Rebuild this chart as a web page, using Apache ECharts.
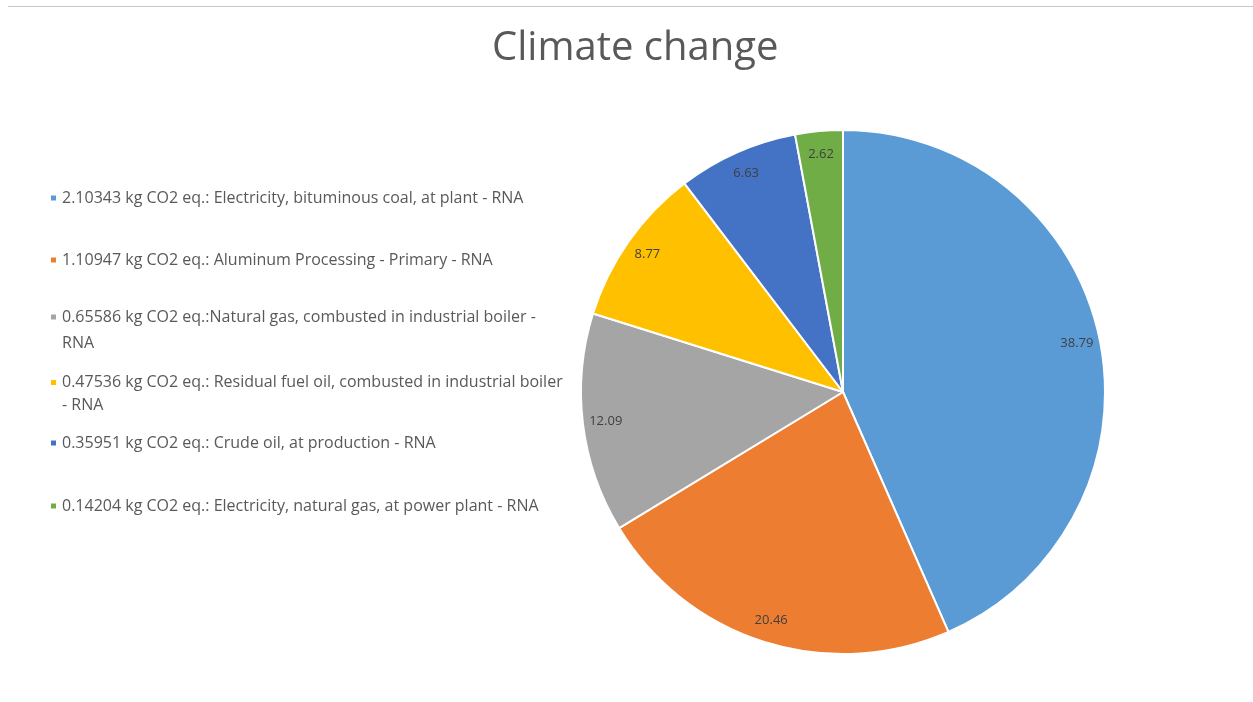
<!DOCTYPE html>
<html>
<head>
<meta charset="utf-8">
<script src="https://cdn.jsdelivr.net/npm/echarts@6/dist/echarts.min.js"></script>
<style>
html,body{margin:0;padding:0;background:#fff;}
#topline{position:absolute;left:8px;right:0;top:6px;height:0;border-top:1px solid #c6c6c6;}
#chart{width:1253px;height:702px;}
</style>
</head>
<body>
<div id="chart"></div>
<div id="topline"></div>
<script>
const titleText = 'Climate change';
const categories = [
  '2.10343 kg CO2 eq.: Electricity, bituminous coal, at plant - RNA',
  '1.10947 kg CO2 eq.: Aluminum Processing - Primary - RNA',
  '0.65586 kg CO2 eq.:Natural gas, combusted in industrial boiler -\nRNA',
  '0.47536 kg CO2 eq.: Residual fuel oil, combusted in industrial boiler\n- RNA',
  '0.35951 kg CO2 eq.: Crude oil, at production - RNA',
  '0.14204 kg CO2 eq.: Electricity, natural gas, at power plant - RNA'
];
const values = [2.10343, 1.10947, 0.65586, 0.47536, 0.35951, 0.14204];
const shareLabels = ['38.79', '20.46', '12.09', '8.77', '6.63', '2.62'];
const colors = ['#5B9BD5', '#ED7D31', '#A5A5A5', '#FFC000', '#4472C4', '#70AD47'];

const chart = echarts.init(document.getElementById('chart'));

const legendTops = [188, 250, 278, 348, 433, 496];
const legendLineHeights = [20, 20, 26, 23, 20, 20];
const legends = categories.map((name, i) => {
  const wrapped = name.indexOf('\n') >= 0;
  return {
    orient: 'vertical',
    left: 49,
    top: legendTops[i],
    padding: 0,
    icon: 'rect',
    itemWidth: 7,
    itemHeight: 7,
    itemGap: 0,
    selectedMode: false,
    data: [name],
    formatter: n => (wrapped ? '\n' + n : n),
    textStyle: {
      fontFamily: 'Open Sans',
      fontSize: 16,
      color: '#595959',
      lineHeight: legendLineHeights[i]
    }
  };
});

chart.setOption({
  animation: false,
  title: {
    text: titleText,
    left: 492,
    top: 29,
    padding: 0,
    textStyle: { fontFamily: 'Open Sans', fontSize: 40, fontWeight: 'normal', color: '#595959' }
  },
  color: colors,
  legend: legends,
  series: [
    {
      type: 'pie',
      center: [843, 392],
      radius: [0, 262],
      startAngle: 90,
      clockwise: true,
      avoidLabelOverlap: false,
      silent: true,
      itemStyle: { borderColor: '#ffffff', borderWidth: 2 },
      label: { show: false },
      labelLine: { show: false },
      data: categories.map((n, i) => ({ name: n, value: values[i], itemStyle: { color: colors[i] } }))
    },
    {
      type: 'pie',
      center: [843, 392],
      radius: [210, 262],
      startAngle: 90,
      clockwise: true,
      avoidLabelOverlap: false,
      silent: true,
      legendHoverLink: false,
      itemStyle: { color: 'rgba(0,0,0,0)', borderWidth: 0 },
      label: {
        show: true,
        position: 'inside',
        fontFamily: 'Open Sans',
        fontSize: 13,
        color: '#404040',
        formatter: p => shareLabels[p.dataIndex]
      },
      labelLine: { show: false },
      data: categories.map((n, i) => ({ name: n, value: values[i] }))
    }
  ]
});
</script>
</body>
</html>
